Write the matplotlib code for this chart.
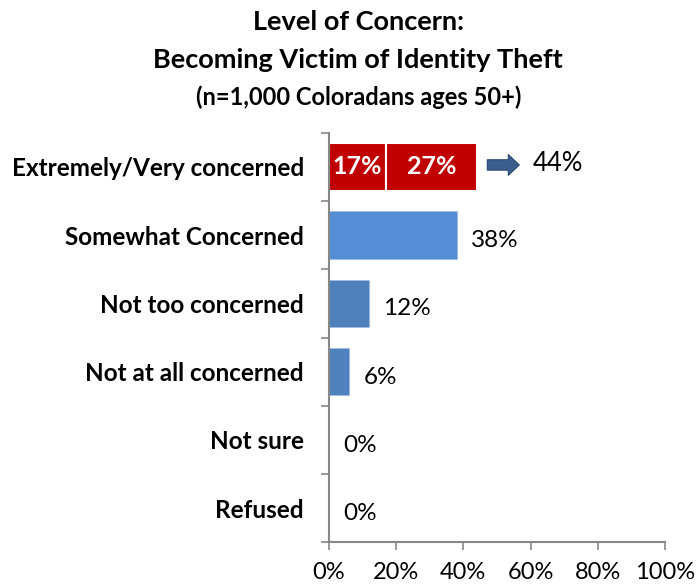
import numpy as np
import matplotlib.pyplot as plt

categories = ["Extremely/Very concerned", "Somewhat Concerned", "Not too concerned",
              "Not at all concerned", "Not sure", "Refused"]
values = [44, 38, 12, 6, 0, 0]
extreme = 17
very = 27
bar_colors = ["#C00000", "#558ED5", "#4F81BD", "#4F81BD", "#4F81BD", "#4F81BD"]
xticks = [0, 20, 40, 60, 80, 100]

plt.rcParams['font.family'] = ['Lato', 'DejaVu Sans']

fig = plt.figure(figsize=(6.97, 5.88), dpi=100)
ax = fig.add_axes([0.472, 0.078, 0.482, 0.696])

y = np.arange(len(categories))
h = 0.7
gap_col = "white"

# stacked first row
ax.barh(0, extreme, height=h, color=bar_colors[0], edgecolor=gap_col, linewidth=1.5)
ax.barh(0, very, left=extreme, height=h, color=bar_colors[0], edgecolor=gap_col, linewidth=1.5)
ax.text(extreme / 2, 0, f"{extreme}%", ha='center', va='center', color='white',
        fontsize=18, fontweight='bold')
ax.text(extreme + very / 2, 0, f"{very}%", ha='center', va='center', color='white',
        fontsize=18, fontweight='bold')
ax.annotate("", xy=(57.5, -0.03), xytext=(46.3, -0.03),
            arrowprops=dict(arrowstyle='simple,head_width=1.5,head_length=0.8,tail_width=0.75',
                            facecolor='#3A5F8F', edgecolor='#2C4A70', lw=0.8))
ax.plot([48.3, 54.5], [-0.03, -0.03], color='black', lw=1.4)
ax.text(60.5, -0.05, f"{values[0]}%", ha='left', va='center', fontsize=18.5)

for i in range(1, len(categories)):
    ax.barh(i, values[i], height=h, color=bar_colors[i], edgecolor='#9DB9DF', linewidth=0.5)
    ax.text(values[i] + 4.2, i + 0.08, f"{values[i]}%", ha='left', va='center',
            fontsize=17.5)

ax.set_xlim(0, 100)
ax.set_ylim(len(categories) - 0.5, -0.5)
ax.set_xticks(xticks)
ax.set_xticklabels([f"{t}%" for t in xticks], fontsize=17)
ax.set_yticks(y)
ax.set_yticklabels(categories, fontsize=17.5, fontweight='bold')
ax.set_yticks(np.arange(-0.5, len(categories), 1), minor=True)
ax.tick_params(axis='y', which='major', length=0, pad=18)
ax.tick_params(axis='y', which='minor', length=6, color='#888888', width=1.2)
ax.tick_params(axis='x', length=6, color='#888888', width=1.2, pad=8)
for s in ['top', 'right']:
    ax.spines[s].set_visible(False)
for s in ['left', 'bottom']:
    ax.spines[s].set_color('#888888')
    ax.spines[s].set_linewidth(1.5)

fig.text(0.514, 0.963, "Level of Concern:", ha='center', va='center', fontsize=19.5, fontweight='bold')
fig.text(0.514, 0.898, "Becoming Victim of Identity Theft", ha='center', va='center',
         fontsize=19.5, fontweight='bold')
fig.text(0.514, 0.835, "(n=1,000 Coloradans ages 50+)", ha='center', va='center',
         fontsize=17, fontweight='bold')

fig.savefig("out.png", dpi=100)
